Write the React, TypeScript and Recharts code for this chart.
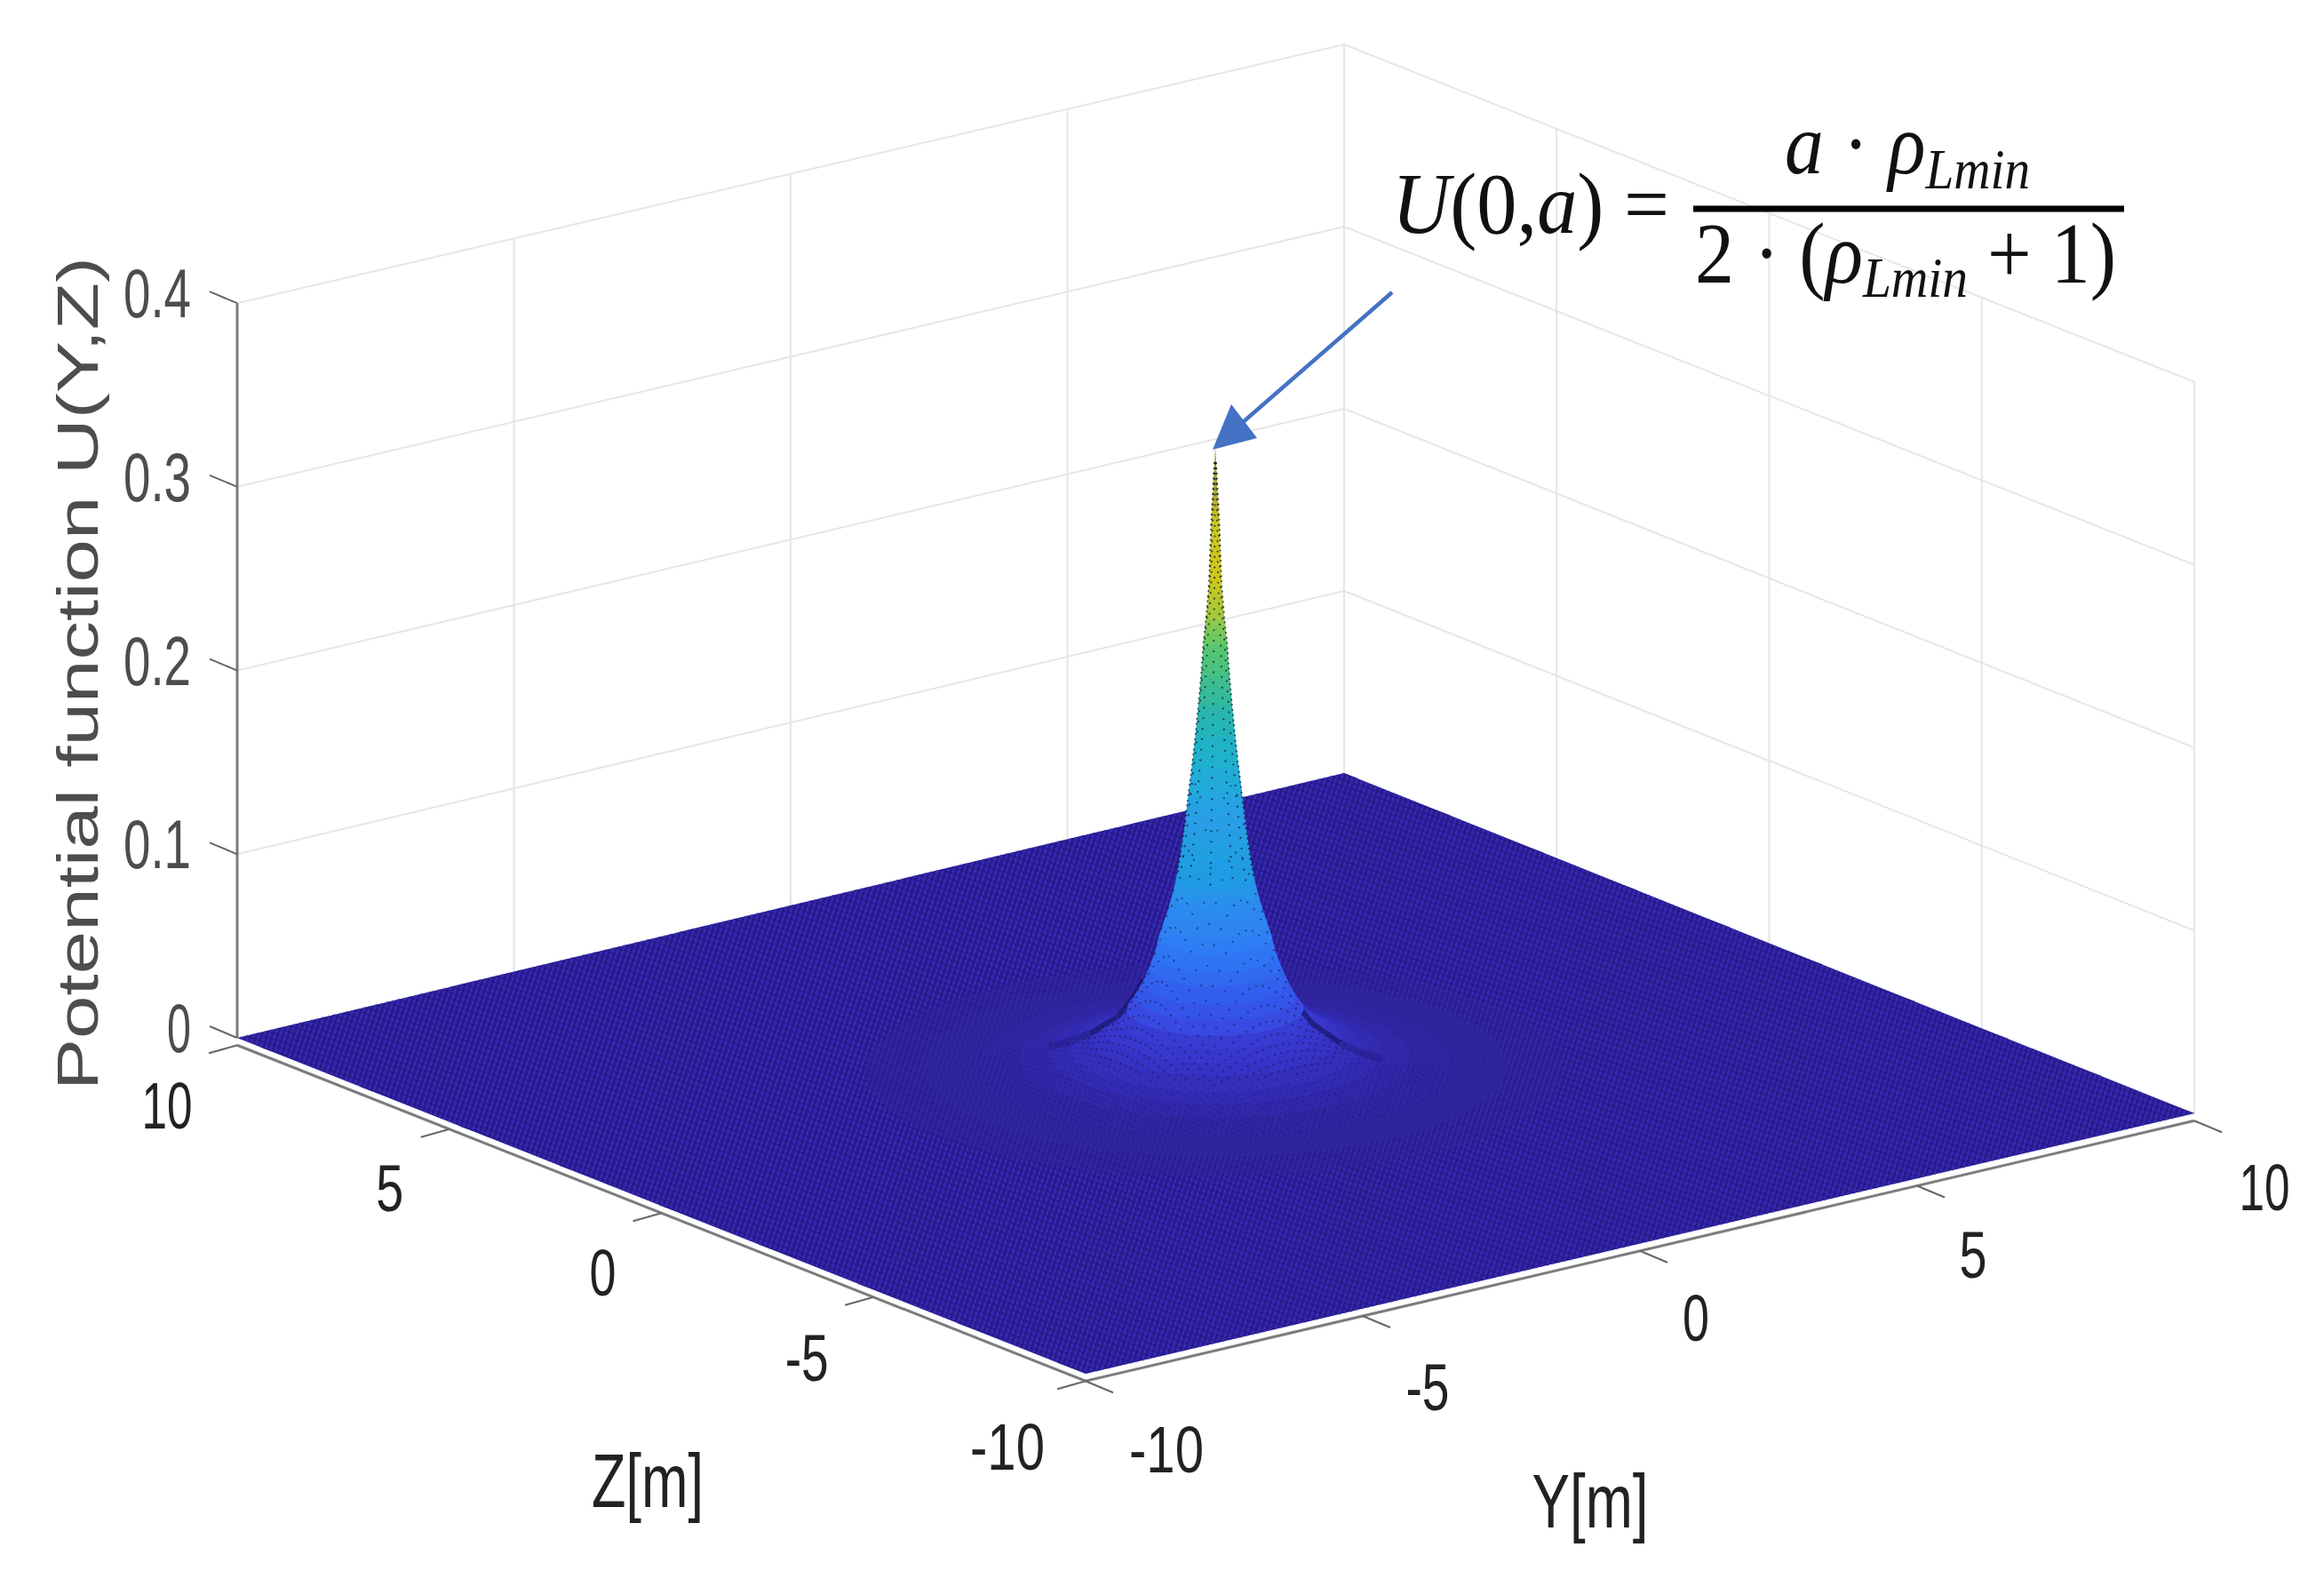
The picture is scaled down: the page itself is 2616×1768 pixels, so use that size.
import React from "react";
import { ComposedChart, XAxis, YAxis, Line, Area, Scatter } from "recharts";

// ---------- values ----------
const uTicks = [0, 0.1, 0.2, 0.3, 0.4];
const uTickLabels = ["0", "0.1", "0.2", "0.3", "0.4"];
const zTicks = [10, 5, 0, -5, -10];
const zTickLabels = ["10", "5", "0", "-5", "-10"];
const yTicks = [-10, -5, 0, 5, 10];
const yTickLabels = ["-10", "-5", "0", "5", "10"];

// radial profile of the potential, outer foot to the summit
const peakR = [5.0, 4.2, 3.4, 2.8, 2.4, 2.1, 1.8, 1.6, 1.4, 1.27, 1.15, 1.04, 0.94, 0.87, 0.81, 0.74, 0.67, 0.61, 0.56, 0.49, 0.43, 0.38, 0.327, 0.28, 0.237, 0.2, 0.17, 0.13, 0.09, 0.06, 0];
const peakU = [0.0025, 0.004, 0.006, 0.009, 0.012, 0.015, 0.02, 0.025, 0.03, 0.036, 0.0425, 0.05, 0.059, 0.066, 0.075, 0.083, 0.091, 0.099, 0.107, 0.123, 0.139, 0.155, 0.171, 0.187, 0.204, 0.22, 0.236, 0.25, 0.268, 0.3, 0.343];
const peakColor = ["#2f2399", "#30259f", "#3228a8", "#342bb4", "#3630c0", "#3834c8", "#3a3ad4", "#3a3eda", "#3a42dc", "#384ae2", "#3552e8", "#335cec", "#3068f0", "#2f72f3", "#2e7cf5", "#2d84f2", "#2c88f0", "#2a90ec", "#209ae6", "#1fa0e0", "#2a9ce8", "#22a8e0", "#20b0d0", "#20b4c0", "#30b8a0", "#45c085", "#5cc86c", "#a0c840", "#c8c81e", "#c8c820", "#8f8f30"];
const footRows = [4, 5, 6];
const shoulderRows = [6, 7, 8, 9, 10, 11];

// ---------- view of the 3-D box on the page plane ----------
type P = { x: number; y: number };
const corner = {
  front: { x: 1222, y: 1546, k: 2065 }, // Y=-10 Z=-10
  left: { x: 267, y: 1168, k: 2067 }, // Y=-10 Z=10
  right: { x: 2470, y: 1253, k: 2058 }, // Y=10 Z=-10
  back: { x: 1513, y: 870, k: 2050 }, // Y=10 Z=10
};
function project(Y: number, Z: number, U: number): P {
  const a = (Y + 10) / 20;
  const b = (Z + 10) / 20;
  const mix = (f: number, l: number, r: number, k: number) =>
    f * (1 - a) * (1 - b) + l * (1 - a) * b + r * a * (1 - b) + k * a * b;
  const c = corner;
  const x = mix(c.front.x, c.left.x, c.right.x, c.back.x);
  const y = mix(c.front.y, c.left.y, c.right.y, c.back.y);
  const k = mix(c.front.k, c.left.k, c.right.k, c.back.k);
  return { x, y: y - U * k };
}

// ---------- helpers that turn 3-D values into series ----------
function segments(list: P[][]) {
  const out: { x: number; y: number | null }[] = [];
  list.forEach((s) => {
    s.forEach((p) => out.push({ x: p.x, y: p.y }));
    out.push({ x: s[s.length - 1].x, y: null });
  });
  return out;
}
function chains(pts: P[]) {
  const s = [...pts].sort((a, b) => a.x - b.x || a.y - b.y);
  const cross = (o: P, a: P, b: P) => (a.x - o.x) * (b.y - o.y) - (a.y - o.y) * (b.x - o.x);
  const lo: P[] = [];
  for (const p of s) {
    while (lo.length > 1 && cross(lo[lo.length - 2], lo[lo.length - 1], p) <= 0) lo.pop();
    lo.push(p);
  }
  const hi: P[] = [];
  for (const p of s) {
    while (hi.length > 1 && cross(hi[hi.length - 2], hi[hi.length - 1], p) >= 0) hi.pop();
    hi.push(p);
  }
  return { lo, hi };
}
function at(chain: P[], x: number) {
  for (let i = 1; i < chain.length; i++) {
    if (x <= chain[i].x) {
      const d = chain[i].x - chain[i - 1].x;
      const t = d === 0 ? 0 : (x - chain[i - 1].x) / d;
      return chain[i - 1].y + t * (chain[i].y - chain[i - 1].y);
    }
  }
  return chain[chain.length - 1].y;
}
function convexArea(pts: P[]) {
  const { lo, hi } = chains(pts);
  const xs = Array.from(new Set([...lo, ...hi].map((p) => p.x))).sort((a, b) => a - b);
  return xs.map((x) => ({ x, range: [at(lo, x), at(hi, x)] as [number, number] }));
}
const ANG = 36;
function ring(i: number): P[] {
  const pts: P[] = [];
  for (let a = 0; a < ANG; a++) {
    const t = (a / ANG) * Math.PI * 2;
    pts.push(project(peakR[i] * Math.cos(t), peakR[i] * Math.sin(t), peakU[i]));
  }
  return pts;
}
function rAtU(u: number) {
  for (let i = 1; i < peakU.length; i++) {
    if (u <= peakU[i]) {
      const t = (u - peakU[i - 1]) / (peakU[i] - peakU[i - 1]);
      return peakR[i - 1] + t * (peakR[i] - peakR[i - 1]);
    }
  }
  return 0;
}
function uAtR(r: number) {
  for (let i = 1; i < peakR.length; i++) {
    if (r >= peakR[i]) {
      const t = (peakR[i - 1] - r) / (peakR[i - 1] - peakR[i]);
      return peakU[i - 1] + t * (peakU[i] - peakU[i - 1]);
    }
  }
  return peakU[peakU.length - 1];
}

// ---------- series built from the values ----------
const FRAME_U = -0.004;
const VIEW = (225 * Math.PI) / 180;
const floorPoly = [project(-10, 10, 0), project(10, 10, 0), project(10, -10, 0), project(-10, -10, 0)];
const floorArea = convexArea(floorPoly);

const wallLines: P[][] = [];
uTicks.slice(1).forEach((u) => {
  wallLines.push([project(-10, 10, u), project(10, 10, u), project(10, -10, u)]);
});
[-5, 0, 5].forEach((y) => wallLines.push([project(y, 10, 0), project(y, 10, 0.4)]));
[5, 0, -5].forEach((z) => wallLines.push([project(10, z, 0), project(10, z, 0.4)]));
wallLines.push([project(10, 10, 0), project(10, 10, 0.4)]);
wallLines.push([project(10, -10, 0), project(10, -10, 0.4)]);
const wallData = segments(wallLines);

const frameData = segments([
  [project(-10, 10, FRAME_U), project(-10, -10, FRAME_U), project(10, -10, FRAME_U)],
  [project(-10, 10, 0), project(-10, 10, 0.4)],
]);
const shift = (p: P, dx: number, dy: number) => ({ x: p.x + dx, y: p.y + dy });
const tickData = segments([
  ...uTicks.map((u) => {
    const p = project(-10, 10, u);
    return [p, shift(p, -31, -13)];
  }),
  ...zTicks.map((z) => {
    const p = project(-10, z, FRAME_U);
    return [p, shift(p, -32, 9)];
  }),
  ...yTicks.map((y) => {
    const p = project(y, -10, FRAME_U);
    return [p, shift(p, 31, 13)];
  }),
]);

// fine mesh sheen of the flat surface, clipped to the floor
function clipToFloor(a: P, d: P): P[] | null {
  let t0 = -1e9;
  let t1 = 1e9;
  for (let i = 0; i < floorPoly.length; i++) {
    const p = floorPoly[i];
    const q = floorPoly[(i + 1) % floorPoly.length];
    const n = { x: q.y - p.y, y: p.x - q.x };
    const den = n.x * d.x + n.y * d.y;
    const num = n.x * (p.x - a.x) + n.y * (p.y - a.y);
    if (den === 0) {
      if (num < 0) return null;
      continue;
    }
    const t = num / den;
    if (den > 0) t1 = Math.min(t1, t);
    else t0 = Math.max(t0, t);
  }
  if (t0 >= t1) return null;
  return [
    { x: a.x + d.x * t0, y: a.y + d.y * t0 },
    { x: a.x + d.x * t1, y: a.y + d.y * t1 },
  ];
}
const sheen: P[][] = [];
for (let c = -200; c < 3000; c += 6) {
  const s = clipToFloor({ x: c, y: 1200 }, { x: 1, y: -3 });
  if (s) sheen.push(s);
}
const sheenData = segments(sheen);
const weave: P[][] = [];
for (let c = 800; c < 1700; c += 7) {
  const s = clipToFloor({ x: 1300, y: c }, { x: 3, y: 1 });
  if (s) weave.push(s);
}
const weaveData = segments(weave);

const bands = peakR.slice(0, -1).map((_, i) => ({
  i,
  data: convexArea([...ring(i), ...ring(i + 1)]),
  solid: peakU[i] < 0.04,
  top: peakColor[i + 1],
  low: peakColor[i],
}));
const lowBands = bands.filter((b) => peakU[b.i] < 0.036);
const highBands = bands.filter((b) => peakU[b.i] >= 0.036);

// dark creases where the foot of the peak meets the flat surface
const crease = (rows: number[], sign: number) =>
  rows
    .map((i) => {
      const t = VIEW + (sign * Math.PI) / 2;
      return project(peakR[i] * Math.cos(t), peakR[i] * Math.sin(t), peakU[i]);
    })
    .sort((a, b) => a.x - b.x);

// mesh nodes visible on the surface
const STEP = 0.12;
const gridDots: (P & { u: number })[] = [];
for (let a = -30; a <= 30; a++) {
  for (let b = -30; b <= 30; b++) {
    const Y = a * STEP;
    const Z = b * STEP;
    const r = Math.hypot(Y, Z);
    if (r < 0.35 || r > 3.4) continue;
    if (Y + Z > 0.1) continue;
    const u = uAtR(r);
    gridDots.push({ ...project(Y, Z, u), u });
  }
}
const strongDots = gridDots.filter((d) => d.u >= 0.018);
const faintDots = gridDots.filter((d) => d.u < 0.018);
const ridgeDots: P[] = [];
let row = 0;
for (let u = 0.11; u < 0.335; u += 0.0028) {
  const r = rAtU(u);
  const phis = row % 2 ? [-90, -35, 35, 90] : [-88, -60, 0, 60, 88];
  phis.forEach((deg) => {
    const t = VIEW + (deg * Math.PI) / 180;
    ridgeDots.push(project(r * Math.cos(t), r * Math.sin(t), u));
  });
  row++;
}

// texts
const GRAY = "#4d4d4d";
const INK = "#222222";
const SANS = "'Liberation Sans', Arial, sans-serif";
const SERIF = "'Liberation Serif', 'DejaVu Serif', serif";
type Span = { text: string; size: number; italic?: boolean; dy?: number };
type T = P & { text?: string; spans?: Span[]; size: number; len?: number; fill: string; anchor: string; rotate?: number; family: string };
const zNudge = [[-79, 67], [-67, 65], [-66, 66], [-75, 67], [-88, 73]];
const yNudge = [[91, 76], [73, 79], [63, 74], [63, 77], [79, 74]];
const tickWidth: Record<string, number> = { "0": 30, "5": 31, "10": 57, "-5": 49, "-10": 84 };
const labels: T[] = [];
uTicks.forEach((u, i) => {
  const p = project(-10, 10, u);
  labels.push({ x: 215, y: p.y - 8 + 24, text: uTickLabels[i], size: 78, len: i === 0 ? 27 : 76, fill: GRAY, anchor: "end", family: SANS });
});
zTicks.forEach((z, i) => {
  const p = project(-10, z, FRAME_U);
  labels.push({ x: p.x + zNudge[i][0], y: p.y + zNudge[i][1] + 27, text: zTickLabels[i], size: 75, len: tickWidth[zTickLabels[i]], fill: INK, anchor: "middle", family: SANS });
});
yTicks.forEach((y, i) => {
  const p = project(y, -10, FRAME_U);
  labels.push({ x: p.x + yNudge[i][0], y: p.y + yNudge[i][1] + 27, text: yTickLabels[i], size: 75, len: tickWidth[yTickLabels[i]], fill: INK, anchor: "middle", family: SANS });
});
labels.push({ x: 729, y: 1696, text: "Z[m]", size: 86, len: 126, fill: INK, anchor: "middle", family: SANS });
labels.push({ x: 1790, y: 1719, text: "Y[m]", size: 86, len: 131, fill: INK, anchor: "middle", family: SANS });
labels.push({ x: 110, y: 758, text: "Potential function U(Y,Z)", size: 65, len: 938, fill: GRAY, anchor: "middle", rotate: -90, family: SANS });

const MAIN = 98;
const SUB = 64;
const formulaLines: T[] = [
  {
    x: 1567, y: 262, size: MAIN, len: 312, fill: "#111111", anchor: "start", family: SERIF,
    spans: [{ text: "U", size: MAIN, italic: true }, { text: "(0,", size: MAIN }, { text: "a", size: MAIN, italic: true }, { text: ") =", size: MAIN }],
  },
  {
    x: 2009, y: 195, size: MAIN, len: 276, fill: "#111111", anchor: "start", family: SERIF,
    spans: [{ text: "a", size: MAIN, italic: true }, { text: " · ", size: MAIN }, { text: "ρ", size: MAIN, italic: true }, { text: "Lmin", size: SUB, italic: true, dy: 17 }],
  },
  {
    x: 1908, y: 318, size: MAIN, len: 474, fill: "#111111", anchor: "start", family: SERIF,
    spans: [{ text: "2 · (", size: MAIN }, { text: "ρ", size: MAIN, italic: true }, { text: "Lmin", size: SUB, italic: true, dy: 16 }, { text: " + 1)", size: MAIN, dy: -16 }],
  },
];
const barData = [{ x: 1906, y: 235 }, { x: 2391, y: 235 }];
const arrowLine = [{ x: 1567, y: 329 }, { x: 1398, y: 476 }];
const arrowHead = convexArea([{ x: 1365, y: 506 }, { x: 1386, y: 455 }, { x: 1415, y: 493 }]);

const TextMark = (p: any) => {
  const d: T = p.payload ?? p;
  return (
    <text
      x={p.cx}
      y={p.cy}
      fontSize={d.size}
      fontFamily={d.family}
      fill={d.fill}
      textAnchor={d.anchor as any}
      textLength={d.len}
      lengthAdjust="spacingAndGlyphs"
      xmlSpace="preserve"
      transform={d.rotate ? `rotate(${d.rotate} ${p.cx} ${p.cy})` : undefined}
    >
      {d.spans
        ? d.spans.map((s, i) => (
            <tspan key={i} dy={s.dy} fontSize={s.size} fontStyle={s.italic ? "italic" : "normal"}>
              {s.text}
            </tspan>
          ))
        : d.text}
    </text>
  );
};
const dot = (r: number, fill: string, o: number) => (p: any) => <circle cx={p.cx} cy={p.cy} r={r} fill={fill} fillOpacity={o} />;
const still = { isAnimationActive: false } as const;
const noDots = { dot: false, activeDot: false, isAnimationActive: false } as const;

export default function App() {
  return (
    <div style={{ position: "absolute", left: 0, top: 0, width: 2616, height: 1768, background: "#fff" }}>
      <ComposedChart width={2616} height={1768} margin={{ top: 0, right: 0, bottom: 0, left: 0 }}>
        <defs>
          {bands.map((b) => (
            <linearGradient key={b.i} id={`band${b.i}`} x1="0" y1="0" x2="0" y2="1">
              <stop offset="0" stopColor={b.top} />
              <stop offset="1" stopColor={b.low} />
            </linearGradient>
          ))}
        </defs>
        <XAxis type="number" dataKey="x" domain={[0, 2616]} hide allowDataOverflow />
        <YAxis type="number" dataKey="y" domain={[0, 1768]} reversed hide allowDataOverflow />

        <Line zIndex={10} data={wallData} dataKey="y" stroke="#e6e6e6" strokeWidth={2} {...noDots} />
        <Line zIndex={11} data={frameData} dataKey="y" stroke="#7c7c7c" strokeWidth={3} {...noDots} />
        <Line zIndex={12} data={tickData} dataKey="y" stroke="#666666" strokeWidth={2} {...noDots} />

        <Area zIndex={20} data={floorArea} dataKey="range" stroke="none" fill="#2a1d8c" fillOpacity={1} {...noDots} />
        <Line zIndex={21} data={sheenData} dataKey="y" stroke="#3a2dc6" strokeWidth={2.6} strokeOpacity={0.75} {...noDots} />
        <Line zIndex={22} data={weaveData} dataKey="y" stroke="#1c1270" strokeWidth={1.6} strokeOpacity={0.35} {...noDots} />
        {lowBands.map((b) => (
          <Area zIndex={23} key={b.i} data={b.data} dataKey="range" stroke="none" fill={b.low} fillOpacity={0.42} {...noDots} />
        ))}
        <Scatter zIndex={24} data={faintDots} shape={dot(1.1, "#1f1580", 0.45)} {...still} />
        <Line zIndex={25} data={crease(footRows, -1)} dataKey="y" stroke="#120c50" strokeWidth={8} strokeOpacity={0.25} {...noDots} />
        <Line zIndex={25} data={crease(footRows, 1)} dataKey="y" stroke="#120c50" strokeWidth={8} strokeOpacity={0.25} {...noDots} />
        <Line zIndex={25} data={crease(shoulderRows, -1)} dataKey="y" stroke="#120c50" strokeWidth={6} strokeOpacity={0.55} {...noDots} />
        <Line zIndex={25} data={crease(shoulderRows, 1)} dataKey="y" stroke="#120c50" strokeWidth={6} strokeOpacity={0.55} {...noDots} />
        {highBands.map((b) => (
          <Area zIndex={26} key={b.i} data={b.data} dataKey="range" stroke="none" fill={b.solid ? b.low : `url(#band${b.i})`} fillOpacity={1} {...noDots} />
        ))}
        <Scatter zIndex={27} data={strongDots} shape={dot(1.2, "#16164a", 0.5)} {...still} />
        <Scatter zIndex={28} data={ridgeDots} shape={dot(1.1, "#14142a", 0.75)} {...still} />

        <Line zIndex={30} data={arrowLine} dataKey="y" stroke="#4472c4" strokeWidth={4.5} {...noDots} />
        <Area zIndex={31} data={arrowHead} dataKey="range" stroke="none" fill="#4472c4" fillOpacity={1} {...noDots} />
        <Line zIndex={32} data={barData} dataKey="y" stroke="#000000" strokeWidth={7} {...noDots} />
        <Scatter zIndex={33} data={labels} shape={TextMark} {...still} />
        <Scatter zIndex={33} data={formulaLines} shape={TextMark} {...still} />
      </ComposedChart>
    </div>
  );
}
